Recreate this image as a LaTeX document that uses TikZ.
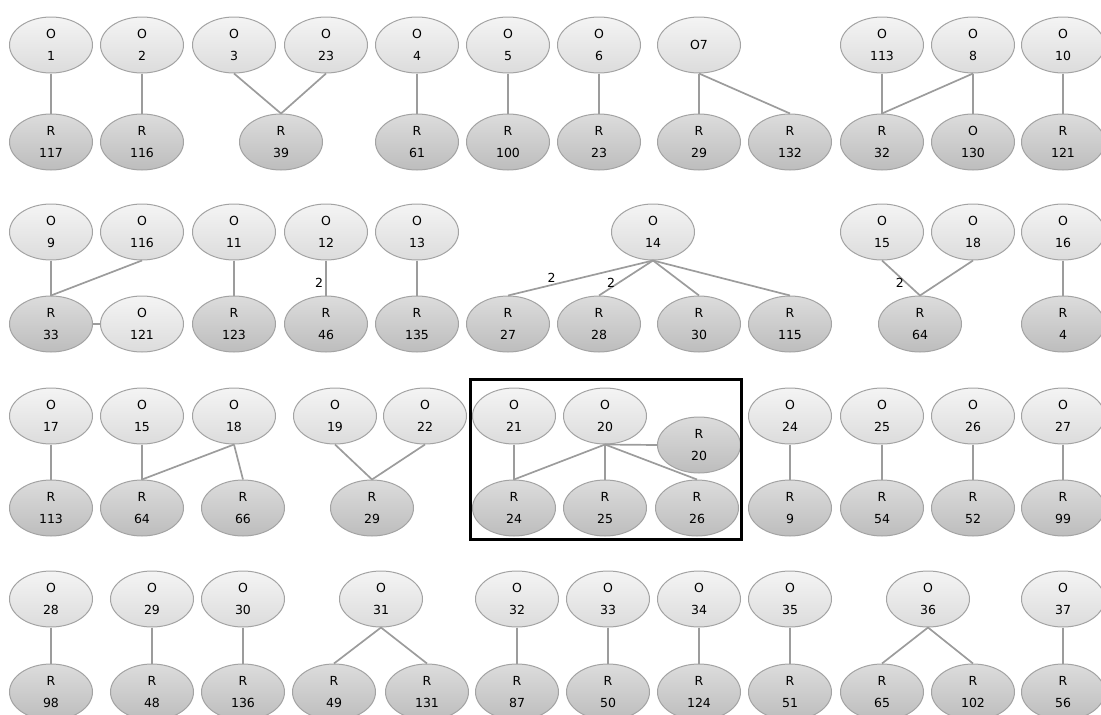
\documentclass[tikz,border=0pt]{standalone}
\usepackage{fontspec}
\setmainfont{DejaVu Sans}
\usetikzlibrary{shapes.geometric}
\definecolor{otop}{HTML}{F4F4F4}
\definecolor{obot}{HTML}{DCDCDC}
\definecolor{rtop}{HTML}{DCDCDC}
\definecolor{rbot}{HTML}{BDBDBD}
\definecolor{nodeborder}{HTML}{A3A3A3}
\definecolor{edgecol}{HTML}{9C9C9C}
\begin{document}
\begin{tikzpicture}[x=1pt,y=-1pt,
  base/.style={ellipse,draw=nodeborder,line width=1pt,minimum width=83pt,minimum height=56pt,inner sep=0pt,align=center,font=\fontsize{12.5}{22}\selectfont},
  onode/.style={base,top color=otop,bottom color=obot},
  rnode/.style={base,top color=rtop,bottom color=rbot},
  link/.style={draw=edgecol,line width=1.7pt},
  lab/.style={font=\fontsize{12.5}{15}\selectfont,inner sep=2pt}]
\useasboundingbox (0,0) rectangle (1101,715);
% ---------- Row 1 ----------
\node[onode] (o1) at (51,45) {O\\1};
\node[onode] (o2) at (142,45) {O\\2};
\node[onode] (o3) at (234,45) {O\\3};
\node[onode] (o23) at (326,45) {O\\23};
\node[onode] (o4) at (417,45) {O\\4};
\node[onode] (o5) at (508,45) {O\\5};
\node[onode] (o6) at (599,45) {O\\6};
\node[onode] (o7) at (699,45) {O7};
\node[onode] (o113) at (882,45) {O\\113};
\node[onode] (o8) at (973,45) {O\\8};
\node[onode] (o10) at (1063,45) {O\\10};
\node[rnode] (r117) at (51,142) {R\\117};
\node[rnode] (r116) at (142,142) {R\\116};
\node[rnode] (r39) at (281,142) {R\\39};
\node[rnode] (r61) at (417,142) {R\\61};
\node[rnode] (r100) at (508,142) {R\\100};
\node[rnode] (r23) at (599,142) {R\\23};
\node[rnode] (r29a) at (699,142) {R\\29};
\node[rnode] (r132) at (790,142) {R\\132};
\node[rnode] (r32) at (882,142) {R\\32};
\node[rnode] (o130) at (973,142) {O\\130};
\node[rnode] (r121) at (1063,142) {R\\121};
\foreach \a/\b in {o1/r117,o2/r116,o3/r39,o23/r39,o4/r61,o5/r100,o6/r23,o7/r29a,o7/r132,o113/r32,o8/r32,o8/o130,o10/r121}
  \draw[link] (\a.south) -- (\b.north);
% ---------- Row 2 ----------
\node[onode] (o9) at (51,232) {O\\9};
\node[onode] (o116) at (142,232) {O\\116};
\node[onode] (o11) at (234,232) {O\\11};
\node[onode] (o12) at (326,232) {O\\12};
\node[onode] (o13) at (417,232) {O\\13};
\node[onode] (o14) at (653,232) {O\\14};
\node[onode] (o15a) at (882,232) {O\\15};
\node[onode] (o18a) at (973,232) {O\\18};
\node[onode] (o16) at (1063,232) {O\\16};
\node[rnode] (r33) at (51,324) {R\\33};
\node[onode] (o121) at (142,324) {O\\121};
\node[rnode] (r123) at (234,324) {R\\123};
\node[rnode] (r46) at (326,324) {R\\46};
\node[rnode] (r135) at (417,324) {R\\135};
\node[rnode] (r27) at (508,324) {R\\27};
\node[rnode] (r28) at (599,324) {R\\28};
\node[rnode] (r30) at (699,324) {R\\30};
\node[rnode] (r115) at (790,324) {R\\115};
\node[rnode] (r64a) at (920,324) {R\\64};
\node[rnode] (r4) at (1063,324) {R\\4};
\foreach \a/\b in {o9/r33,o116/r33,o11/r123,o13/r135,o14/r30,o14/r115,o18a/r64a,o16/r4}
  \draw[link] (\a.south) -- (\b.north);
\draw[link] (r33.east) -- (o121.west);
\draw[link] (o12.south) -- node[lab,pos=0.65,left] {2} (r46.north);
\draw[link] (o14.south) -- node[lab,pos=0.7,above] {2} (r27.north);
\draw[link] (o14.south) -- node[lab,pos=0.65,left] {2} (r28.north);
\draw[link] (o15a.south) -- node[lab,pos=0.65,left] {2} (r64a.north);
% ---------- Row 3 ----------
\node[onode] (o17) at (51,416) {O\\17};
\node[onode] (o15b) at (142,416) {O\\15};
\node[onode] (o18b) at (234,416) {O\\18};
\node[onode] (o19) at (335,416) {O\\19};
\node[onode] (o22) at (425,416) {O\\22};
\node[onode] (o21) at (514,416) {O\\21};
\node[onode] (o20) at (605,416) {O\\20};
\node[onode] (o24) at (790,416) {O\\24};
\node[onode] (o25) at (882,416) {O\\25};
\node[onode] (o26) at (973,416) {O\\26};
\node[onode] (o27) at (1063,416) {O\\27};
\node[rnode] (r113) at (51,508) {R\\113};
\node[rnode] (r64b) at (142,508) {R\\64};
\node[rnode] (r66) at (243,508) {R\\66};
\node[rnode] (r29b) at (372,508) {R\\29};
\node[rnode] (r24) at (514,508) {R\\24};
\node[rnode] (r25) at (605,508) {R\\25};
\node[rnode] (r26) at (697,508) {R\\26};
\node[rnode] (r20) at (699,445) {R\\20};
\node[rnode] (r9) at (790,508) {R\\9};
\node[rnode] (r54) at (882,508) {R\\54};
\node[rnode] (r52) at (973,508) {R\\52};
\node[rnode] (r99) at (1063,508) {R\\99};
\foreach \a/\b in {o17/r113,o15b/r64b,o18b/r64b,o18b/r66,o19/r29b,o22/r29b,o21/r24,o20/r24,o20/r25,o20/r26,o24/r9,o25/r54,o26/r52,o27/r99}
  \draw[link] (\a.south) -- (\b.north);
\draw[link] (o20.south) -- (r20.west);
\draw[line width=3pt,black] (470,379) rectangle (741,539);
% ---------- Row 4 ----------
\node[onode] (o28) at (51,599) {O\\28};
\node[onode] (o29) at (152,599) {O\\29};
\node[onode] (o30) at (243,599) {O\\30};
\node[onode] (o31) at (381,599) {O\\31};
\node[onode] (o32) at (517,599) {O\\32};
\node[onode] (o33) at (608,599) {O\\33};
\node[onode] (o34) at (699,599) {O\\34};
\node[onode] (o35) at (790,599) {O\\35};
\node[onode] (o36) at (928,599) {O\\36};
\node[onode] (o37) at (1063,599) {O\\37};
\node[rnode] (r98) at (51,692) {R\\98};
\node[rnode] (r48) at (152,692) {R\\48};
\node[rnode] (r136) at (243,692) {R\\136};
\node[rnode] (r49) at (334,692) {R\\49};
\node[rnode] (r131) at (427,692) {R\\131};
\node[rnode] (r87) at (517,692) {R\\87};
\node[rnode] (r50) at (608,692) {R\\50};
\node[rnode] (r124) at (699,692) {R\\124};
\node[rnode] (r51) at (790,692) {R\\51};
\node[rnode] (r65) at (882,692) {R\\65};
\node[rnode] (r102) at (973,692) {R\\102};
\node[rnode] (r56) at (1063,692) {R\\56};
\foreach \a/\b in {o28/r98,o29/r48,o30/r136,o31/r49,o31/r131,o32/r87,o33/r50,o34/r124,o35/r51,o36/r65,o36/r102,o37/r56}
  \draw[link] (\a.south) -- (\b.north);
\end{tikzpicture}
\end{document}
